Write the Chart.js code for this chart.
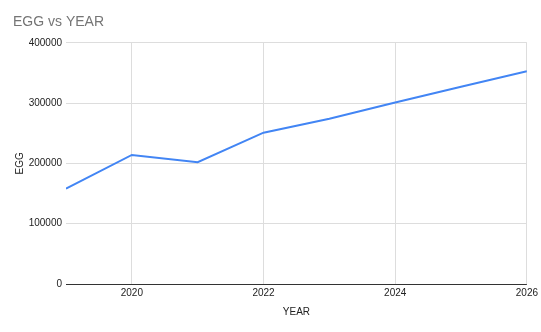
<!DOCTYPE html>
<html>
<head>
<meta charset="utf-8">
<script src="https://cdn.jsdelivr.net/npm/chart.js@4"></script>
<style>
  body { margin: 0; background: #fff; }
  canvas { display: block; }
</style>
</head>
<body>
<canvas id="egg-chart" width="541" height="332"></canvas>
<script>
const years = [2019, 2020, 2021, 2022, 2023, 2024, 2025, 2026];
const eggs = [158000, 214000, 202000, 251000, 274000, 301000, 327000, 353000];
const xTicks = [2020, 2022, 2024, 2026];
const yTicks = [0, 100000, 200000, 300000, 400000];

const eggChart = () => {
    const option = {
        type: "line",
        data: {
            datasets: [{
                label: "EGG",
                data: years.map((y, i) => ({ x: y, y: eggs[i] })),
                borderColor: "#4285f4",
                borderWidth: 2,
                pointRadius: 0,
                tension: 0,
            }]
        },
        options: {
            responsive: false,
            animation: false,
            layout: { padding: { left: 13, right: 14, top: 0, bottom: 10 } },
            plugins: {
                legend: { display: false },
                tooltip: { enabled: false },
                title: {
                    display: true,
                    text: "EGG vs YEAR",
                    align: "start",
                    color: "#757575",
                    font: { family: "Arial, 'Liberation Sans'", size: 14, weight: "normal" },
                    padding: { top: 14, bottom: 12 }
                }
            },
            scales: {
                x: {
                    type: "linear",
                    min: years[0],
                    max: years[years.length - 1],
                    afterBuildTicks: (axis) => { axis.ticks = xTicks.map(v => ({ value: v })); },
                    afterFit: (axis) => { axis.height = 38; },
                    grid: { color: "#dddddd", drawTicks: false },
                    border: { display: false },
                    ticks: {
                        color: "#222",
                        padding: 3,
                        font: { family: "Arial, 'Liberation Sans'", size: 10 },
                        callback: (v) => String(v)
                    },
                    title: {
                        display: true,
                        text: "YEAR",
                        color: "#222",
                        font: { family: "Arial, 'Liberation Sans'", size: 10 },
                        padding: { top: 4, bottom: 4 }
                    }
                },
                y: {
                    min: 0,
                    max: 400000,
                    afterBuildTicks: (axis) => { axis.ticks = yTicks.map(v => ({ value: v })); },
                    afterFit: (axis) => { axis.width = 53; },
                    grid: {
                        drawTicks: false,
                        color: (ctx) => ctx.tick && ctx.tick.value === 0 ? "#333333" : "#dddddd"
                    },
                    border: { display: false },
                    ticks: {
                        color: "#222",
                        padding: 4,
                        font: { family: "Arial, 'Liberation Sans'", size: 10 },
                        callback: (v) => String(v)
                    },
                    title: {
                        display: true,
                        text: "EGG",
                        color: "#222",
                        font: { family: "Arial, 'Liberation Sans'", size: 10 },
                        padding: { top: 1, bottom: 0 }
                    }
                }
            }
        }
    };
    const canvas = document.getElementById("egg-chart");
    new Chart(canvas, option);
};

eggChart();
</script>
</body>
</html>
